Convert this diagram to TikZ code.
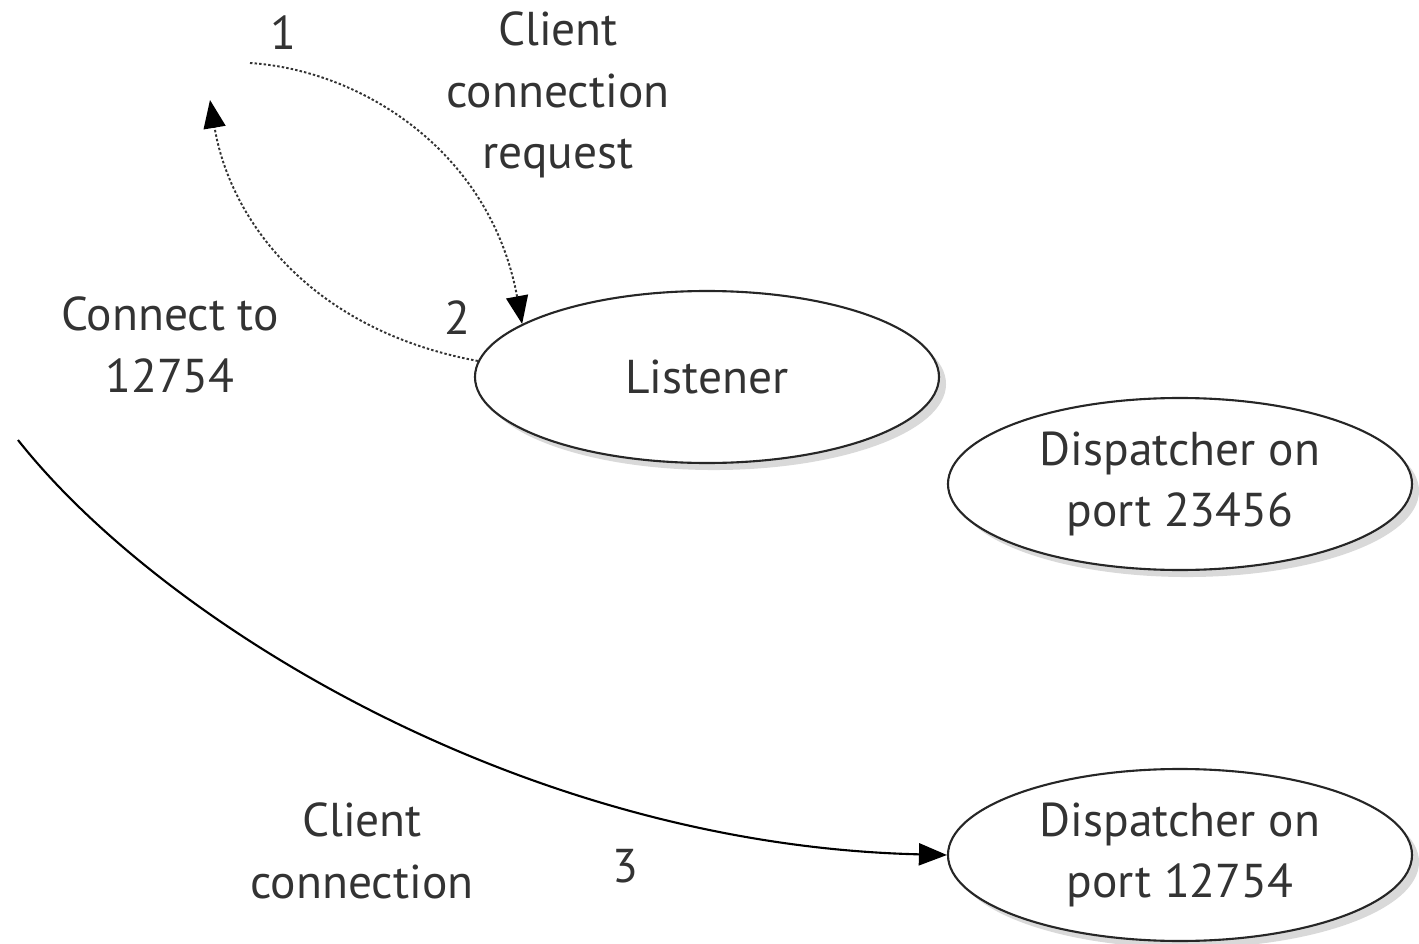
\documentclass[tikz,border=0pt]{standalone}
\usepackage{fontspec}
\setmainfont{PT Sans}
\usetikzlibrary{arrows.meta,shapes.geometric,shadows}

\begin{document}
\begin{tikzpicture}[thin,
                    align=center,
                    every node/.style={text centered, text=black!80,
                                       font=\fontsize{13.5}{17.5}\selectfont},
                    proc/.style={ellipse, draw=black!85, line width=0.6pt,
                                 fill=white, inner sep=0pt,
                                 minimum width=4.64cm, minimum height=1.72cm,
                                 drop shadow={opacity=0.3, shadow xshift=2pt,
                                              shadow yshift=-2pt}},
                    dots/.style={draw=black!80, line width=0.55pt,
                                 dash pattern=on 0.7pt off 0.6pt},
                    tip/.style={-{Triangle[length=2.8mm, width=2.2mm, color=black]}}]
      \useasboundingbox (0, 0) rectangle (14.19, -9.44);
      \coordinate (req) at (2.5, -0.63);
      \coordinate (back) at (2.1, -1.0);
      \coordinate (client) at (0.18, -4.4);
      \node[proc] (listener) at (7.07, -3.77) {Listener};
      \node[proc] (disp_a) at (11.8, -4.84) {Dispatcher on\\port 23456};
      \node[proc] (disp_b) at (11.8, -8.55) {Dispatcher on\\port 12754};
      \node (one) at (2.83, -0.33) {1};
      \node (two) at (4.57, -3.18) {2};
      \node (three) at (6.25, -8.66) {3};
      \node (request) at (5.58, -0.95) {Client\\connection\\request};
      \node (connect) at (1.7, -3.45) {Connect to\\12754};
      \node (connection) at (3.62, -8.51) {Client\\connection};
      \draw[dots, tip] (req) .. controls (3.6, -0.7) and (4.9, -1.5) .. (listener.164);
      \draw[dots, tip] (listener.176) .. controls (3.1, -3.3) and (2.3, -2.2) .. (back);
      \draw[tip, line width=0.6pt] (client) .. controls (1.6, -6.2) and (5.2, -8.45) .. (disp_b.west);
    \end{tikzpicture}
\end{document}
